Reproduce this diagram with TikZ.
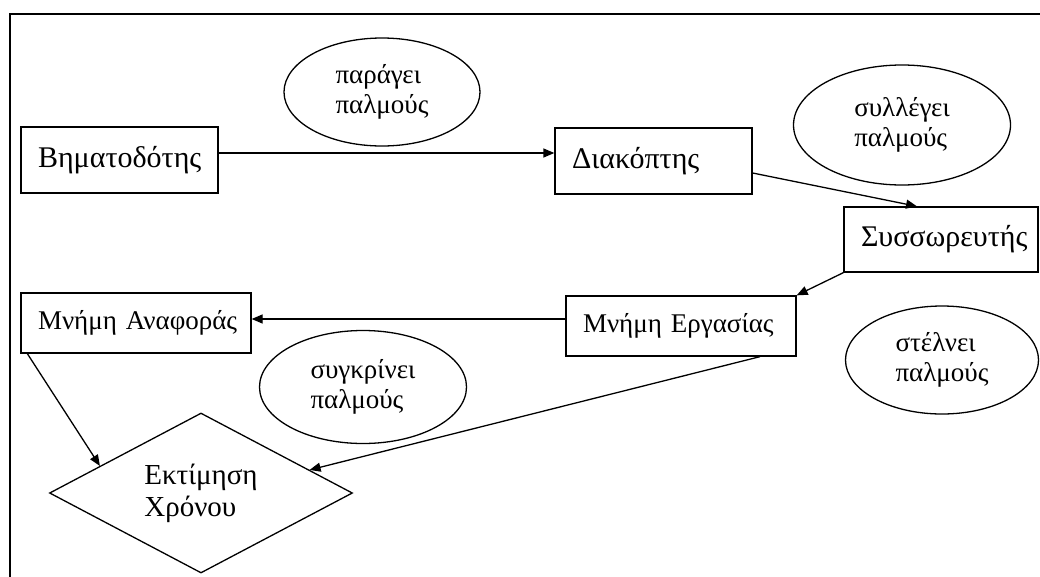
\documentclass[tikz,border=0pt]{standalone}
\usepackage{fontspec}
\setmainfont{Liberation Serif}
\usetikzlibrary{shapes.geometric,arrows.meta}

\begin{document}
\begin{tikzpicture}[x=1pt, y=-1pt, >={Triangle[length=11pt,width=9pt]},
    box/.style={draw, line width=1.3pt, rectangle, inner xsep=17pt, inner ysep=0pt,
                align=left, font=\fontsize{30}{33}\selectfont},
    note/.style={draw, line width=1.3pt, ellipse, inner sep=0pt, align=left,
                 font=\fontsize{27}{30}\selectfont},
    link/.style={->, line width=1.3pt}]
    \useasboundingbox (0,0) rectangle (1040,576);

    % Frame
    \draw[line width=1.5pt] (10,14) rectangle (1070,610);

    % Boxes
    \node[box, text width=163pt, minimum height=66pt] (bima) at (119.5,160) {Βηματοδότης};
    \node[box, text width=163pt, minimum height=66pt] (diak) at (653.5,161) {Διακόπτης};
    \node[box, text width=160pt, minimum height=65pt] (syss) at (941,239.5) {Συσσωρευτής};
    \node[box, text width=196pt, minimum height=60pt, font=\fontsize{27}{30}\selectfont] (ergas) at (681,326) {Μνήμη~Εργασίας};
    \node[box, text width=196pt, minimum height=60pt, font=\fontsize{27}{30}\selectfont] (anaf) at (136,323) {Μνήμη~Αναφοράς};

    % Decision
    \node[draw, line width=1.3pt, diamond, shape aspect=1.9, inner sep=0pt, minimum width=303pt, minimum height=160pt,
          align=left, font=\fontsize{29}{32}\selectfont] (ektim) at (201,493) {Εκτίμηση\\Χρόνου};

    % Ellipses
    \node[note, minimum width=196pt, minimum height=108pt] (paragei) at (382,92) {παράγει\\παλμούς};
    \node[note, minimum width=217pt, minimum height=120pt] (syllegei) at (902,125) {συλλέγει\\παλμούς};
    \node[note, minimum width=193pt, minimum height=108pt] (stelnei) at (942,360) {στέλνει\\παλμούς};
    \node[note, minimum width=207pt, minimum height=113pt] (sygkrinei) at (363,387) {συγκρίνει\\παλμούς};

    % Arrows
    \draw[link] ([yshift=7pt]bima.east) -- ([yshift=8pt]diak.west);
    \draw[link] ([yshift=-12pt]diak.east) -- ([xshift=-24pt]syss.north);
    \draw[link] (syss.south west) -- (ergas.north east);
    \draw[link] ([yshift=7pt]ergas.west) -- ([yshift=4pt]anaf.east);
    \draw[link] ([xshift=7pt]anaf.south west) -- (ektim.165);
    \draw[link] ([xshift=79pt]ergas.south) -- (ektim.12);
\end{tikzpicture}
\end{document}
